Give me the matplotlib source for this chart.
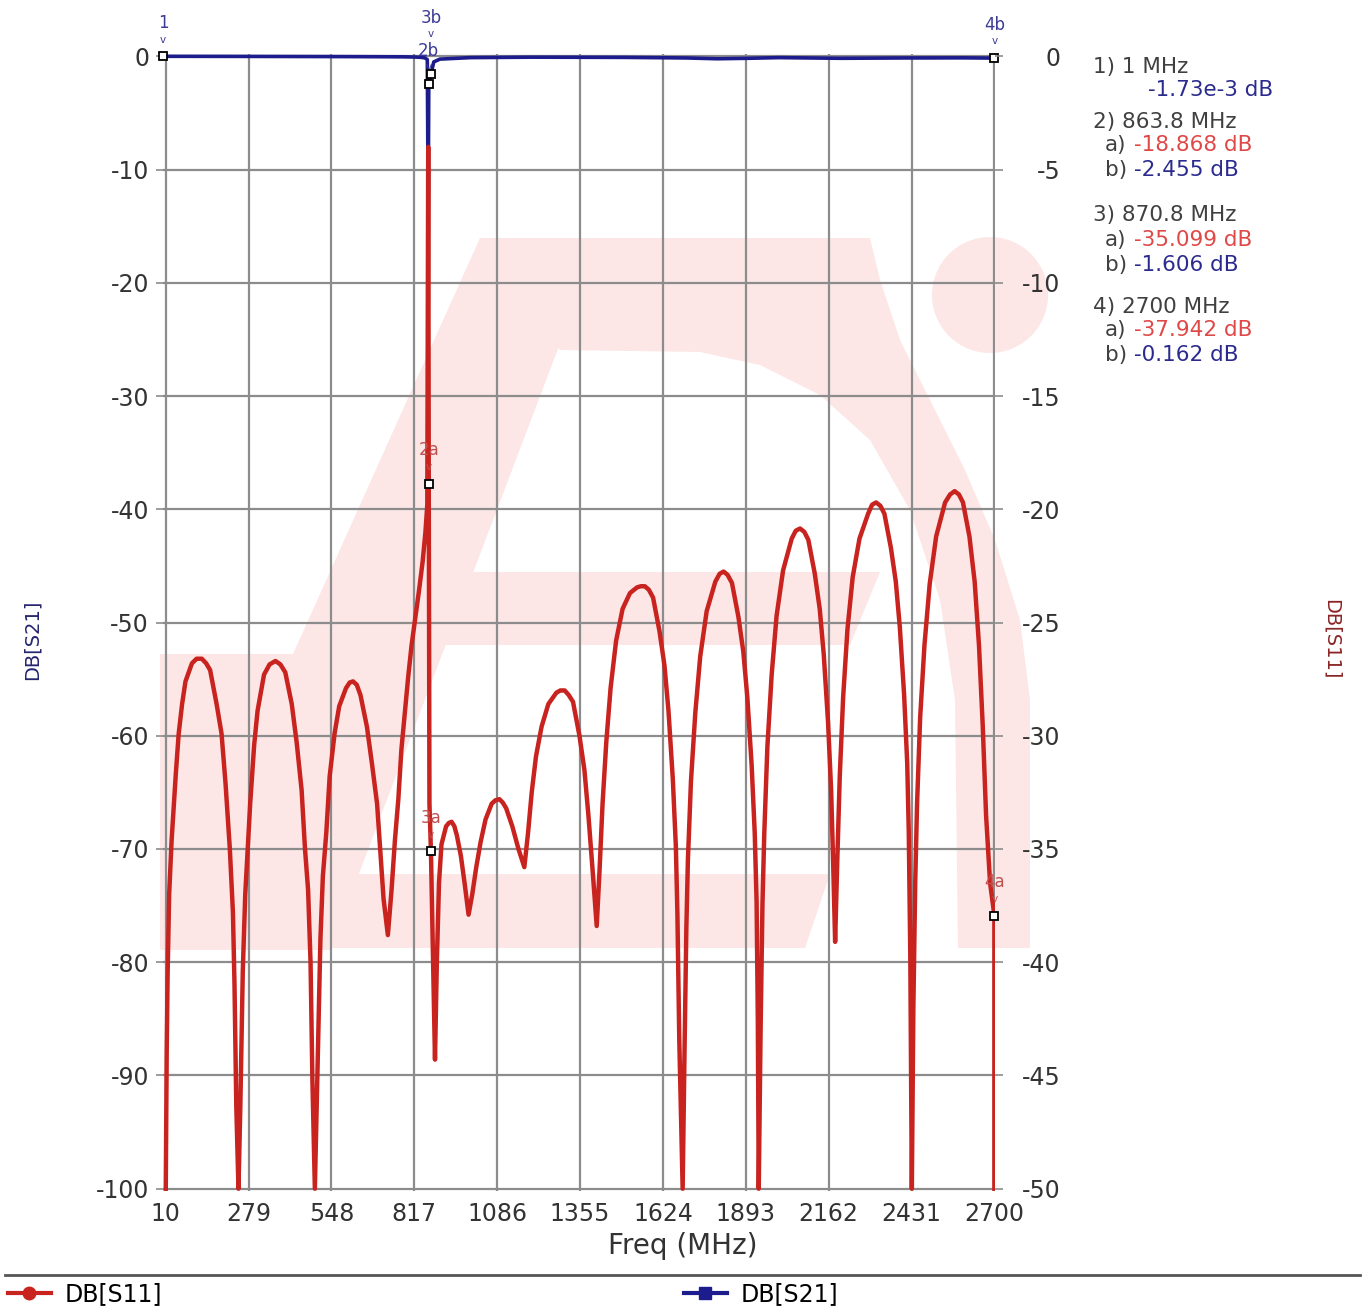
import matplotlib
matplotlib.use("Agg")
import matplotlib.pyplot as plt
from matplotlib.patches import Polygon, Ellipse
from matplotlib.lines import Line2D

W, H = 1364, 1309

# DB[S11] (red trace, right axis)
s11_freq = [10, 13, 16, 21, 29, 36, 43, 52, 63, 74, 95, 110, 127, 141, 154, 175, 191, 204, 218, 228, 233, 239, 246,
            252, 260, 268, 276, 284, 297, 308, 329, 347, 366, 382, 398, 419, 435, 451, 462, 472, 480, 486, 494,
            505, 512, 520, 531, 542, 558, 573, 595, 607, 618, 630, 642, 663, 680, 696, 706, 717, 731,
            743, 754, 765, 775, 786, 797, 808, 820, 832, 844, 853, 859, 862, 863.8, 866, 870.8,
            878, 884, 890, 897, 905, 920, 929, 938, 947, 955, 968, 980, 993,
            1005, 1018, 1032, 1048, 1068, 1080, 1093, 1104, 1115, 1135, 1155, 1174,
            1186, 1198, 1212, 1230, 1252, 1278, 1291, 1305, 1318, 1332, 1353, 1369, 1382, 1396, 1409,
            1418, 1428, 1440, 1454, 1472, 1493, 1517, 1540, 1552, 1565, 1578, 1592, 1613, 1629, 1642, 1656, 1666,
            1671, 1677, 1688,
            1694, 1700, 1705, 1715, 1729, 1745, 1766, 1794, 1808, 1821, 1834, 1848, 1869, 1885, 1898, 1912, 1922,
            1928, 1932, 1935,
            1941, 1947, 1953, 1963, 1977, 1993, 2014, 2042, 2055, 2069, 2083, 2096, 2117, 2133, 2146, 2160, 2170,
            2176, 2183,
            2190, 2198, 2209, 2223, 2240, 2262, 2290, 2303, 2316, 2330, 2343, 2364, 2380, 2393, 2407, 2417, 2422,
            2427, 2432,
            2437, 2443, 2449, 2459, 2473, 2490, 2511, 2540, 2556, 2571, 2585, 2598, 2619, 2636, 2650, 2662, 2673,
            2686, 2700, 2700]
s11_db = [-50, -44, -40.5, -37, -34.6, -33.1, -31.6, -29.9, -28.6, -27.6, -26.8, -26.6, -26.6, -26.8, -27.1, -28.6,
          -29.9, -32.1, -35, -37.8, -40.9, -46.4, -50,
          -46.4, -40.4, -37, -35, -33, -30.4, -28.9, -27.3, -26.85, -26.7, -26.85, -27.2, -28.6, -30.3, -32.4, -35,
          -36.8, -40, -45.2, -50,
          -43.4, -39, -36.2, -34.3, -31.8, -29.9, -28.7, -27.9, -27.65, -27.6, -27.75, -28.2, -29.6, -31.3, -33, -35,
          -37.2, -38.8,
          -36.8, -34.6, -32.8, -30.6, -29.0, -27.4, -26.0, -24.8, -23.6, -22.3, -21.0, -19.8, -4.0, -18.868, -33.0,
          -35.099,
          -40.0, -44.3, -40.0, -36.5, -34.8, -34.0, -33.85, -33.8, -34.0, -34.4, -35.3, -36.5, -37.9,
          -37.0, -35.8, -34.7, -33.7, -33.0, -32.85, -32.8, -32.95, -33.2, -34.0, -35.0, -35.8,
          -34.3, -32.5, -30.9, -29.6, -28.6, -28.1, -28.0, -28.0, -28.2, -28.5, -30.0, -31.5, -33.5, -36.0, -38.4,
          -36.0, -33.0, -30.3, -27.9, -25.8, -24.4, -23.7, -23.45, -23.4, -23.4, -23.55, -23.9, -25.4, -26.9, -28.9,
          -31.9, -34.9, -37.9, -43.4, -50,
          -44.0, -38.5, -35.5, -32.0, -29.0, -26.5, -24.5, -23.2, -22.85, -22.75, -22.9, -23.25, -24.75, -26.3, -28.3,
          -31.3, -34.3, -37.3, -42.5, -50,
          -43, -37.5, -34.3, -30.5, -27.3, -24.7, -22.7, -21.3, -20.95, -20.85, -21.0, -21.35, -22.85, -24.4, -26.4,
          -29.4, -32.4, -35.3, -39.1,
          -35.5, -31.8, -28.3, -25.3, -23.0, -21.3, -20.2, -19.8, -19.7, -19.85, -20.2, -21.7, -23.2, -25.2, -28.2,
          -31.2, -34.2, -39.7, -50,
          -42, -36.5, -33, -29.2, -26, -23.3, -21.2, -19.7, -19.35, -19.2, -19.35, -19.7, -21.2, -23.2, -26, -29.5,
          -33.5, -36.5, -37.942, -50]

# DB[S21] (blue trace, left axis)
s21_freq = [1, 10, 200, 400, 600, 700, 780, 820, 840, 852, 859, 862, 863.8, 870.8, 880, 900, 1000,
            1200, 1500, 1700, 1800, 1900, 2000, 2200, 2400, 2600, 2700]
s21_db = [-1.73e-3, -0.005, -0.01, -0.02, -0.03, -0.04, -0.05, -0.07, -0.1, -0.15, -0.3, -14, -2.455, -1.606, -0.5,
          -0.25, -0.12, -0.08, -0.1, -0.15, -0.22, -0.18, -0.12, -0.18, -0.15, -0.14, -0.162]

x_ticks = [10, 279, 548, 817, 1086, 1355, 1624, 1893, 2162, 2431, 2700]
left_ticks = list(range(-100, 1, 10))
right_ticks = list(range(-50, 1, 5))

# markers
mk21_freq = [1, 863.8, 870.8, 2700]
mk21_db = [-1.73e-3, -2.455, -1.606, -0.162]
mk21_lab = ["1", "2b", "3b", "4b"]
mk21_raise = [0, 0, 17, 0]
mk11_freq = [863.8, 870.8, 2700]
mk11_db = [-18.868, -35.099, -37.942]
mk11_lab = ["2a", "3a", "4a"]

# marker readout box: (prefix, value, kind)
readout = [("1) 1 MHz", None, "head"), ("", "-1.73e-3 dB", "b"),
           ("2) 863.8 MHz", None, "head"), ("a)", "-18.868 dB", "a"), ("b)", "-2.455 dB", "b"),
           ("3) 870.8 MHz", None, "head"), ("a)", "-35.099 dB", "a"), ("b)", "-1.606 dB", "b"),
           ("4) 2700 MHz", None, "head"), ("a)", "-37.942 dB", "a"), ("b)", "-0.162 dB", "b")]
readout_y = [67, 90, 122, 145, 170, 215, 240, 265, 307, 330, 355]

RED = "#c8231f"
BLUE = "#1c1c8c"
GRID = "#8c8c8c"
WM = "#fce6e6"
TXT = "#333333"

plt.rcParams['font.family'] = ['DejaVu Sans']
plt.rcParams['axes.unicode_minus'] = False

fig = plt.figure(figsize=(W / 100, H / 100), dpi=100)


def fp(x, y):
    return (x / W, 1 - y / H)


# watermark logo behind the plot
wm_shapes = [
    [(160, 950), (330, 950), (600, 238), (480, 238)],
    [(480, 238), (870, 238), (880, 280), (900, 340), (930, 400), (965, 470), (995, 540), (1020, 620),
     (1030, 700), (1030, 948), (958, 948), (955, 700), (940, 600), (910, 510), (870, 440), (820, 395),
     (760, 365), (700, 352), (560, 350)],
    [(430, 572), (880, 572), (850, 645), (405, 645)],
    [(160, 654), (310, 654), (310, 948), (160, 948)],
    [(300, 874), (830, 874), (805, 948), (300, 948)],
]
for shp in wm_shapes:
    fig.add_artist(Polygon([fp(*p) for p in shp], closed=True, transform=fig.transFigure,
                           facecolor=WM, edgecolor='none', zorder=-2))
fig.add_artist(Ellipse(fp(990, 295), 116 / W, 116 / H, transform=fig.transFigure,
                       facecolor=WM, edgecolor='none', zorder=-2))

ax = fig.add_axes([163 / W, (H - 1191) / H, (995 - 163) / W, (1191 - 54) / H])
ax.set_facecolor('none')
ax2 = ax.twinx()
ax2.set_facecolor('none')

ax.plot(s21_freq, s21_db, color=BLUE, lw=2.6, zorder=3, clip_on=False)
ax2.plot(s11_freq, s11_db, color=RED, lw=3.2, zorder=3)

ax.set_xlim(1, 2702)
ax.set_ylim(-100.2, 0.2)
ax2.set_ylim(-50.1, 0.1)
ax.set_xticks(x_ticks)
ax.set_yticks(left_ticks)
ax2.set_yticks(right_ticks)
ax.grid(True, color=GRID, lw=1.6)
ax.set_axisbelow(True)
for a in (ax, ax2):
    for s in a.spines.values():
        s.set_visible(False)

ax.tick_params(axis='both', length=5, width=1.2, color=GRID, labelsize=17, labelcolor=TXT, pad=5)
ax.tick_params(axis='x', length=0, pad=8)
ax2.tick_params(axis='y', length=6, width=1.2, color=GRID, labelsize=17, labelcolor=TXT, pad=41)
for lab in ax2.get_yticklabels():
    lab.set_ha('right')

ax.set_xlabel("Freq (MHz)", fontsize=20, color=TXT)
ax.xaxis.set_label_coords((683 - 163) / 832, -0.036)
ax.set_ylabel("DB[S21]", fontsize=14, color="#25256e")
ax.yaxis.set_label_coords(-0.146, 0.485)
ax2.set_ylabel("DB[S11]", fontsize=14, color="#8b2525", rotation=270)
ax2.yaxis.set_label_coords(1.415, 0.485)

# markers with their little labels
ax.plot(mk21_freq, mk21_db, ls='none', marker='s', ms=6, mfc='white', mec='black', mew=1.3,
        zorder=5, clip_on=False)
for f, v, lab, r in zip(mk21_freq, mk21_db, mk21_lab, mk21_raise):
    ax.annotate(lab, (f, v), xytext=(0, 24 + r), textcoords='offset points', ha='center', va='center',
                fontsize=12, color="#3c3c96", annotation_clip=False)
    ax.annotate("v", (f, v), xytext=(0, 12 + r), textcoords='offset points', ha='center', va='center',
                fontsize=7.5, color="#3c3c96", annotation_clip=False)
ax2.plot(mk11_freq, mk11_db, ls='none', marker='s', ms=6, mfc='white', mec='black', mew=1.3,
         zorder=5, clip_on=False)
for f, v, lab in zip(mk11_freq, mk11_db, mk11_lab):
    ax2.annotate(lab, (f, v), xytext=(0, 24), textcoords='offset points', ha='center', va='center',
                 fontsize=12, color="#c05050", annotation_clip=False)
    ax2.annotate("v", (f, v), xytext=(0, 12), textcoords='offset points', ha='center', va='center',
                 fontsize=7.5, color="#c05050", annotation_clip=False)

# readout box at right
for (pre, val, kind), y in zip(readout, readout_y):
    if kind == "head":
        fig.text(*fp(1093, y), pre, fontsize=15.5, color="#404040", va='center', ha='left')
    else:
        if pre:
            fig.text(*fp(1105, y), pre, fontsize=15.5, color="#404040", va='center', ha='left')
            vx = 1134
        else:
            vx = 1148
        fig.text(*fp(vx, y), val, fontsize=15.5, color=("#e04848" if kind == "a" else "#2b2b8f"),
                 va='center', ha='left')

# bottom legend strip
fig.add_artist(Line2D([5 / W, 1360 / W], [1 - 1275 / H] * 2, transform=fig.transFigure,
                      color="#555555", lw=2))
h11 = Line2D([], [], color=RED, lw=3, marker='o', ms=9)
h21 = Line2D([], [], color=BLUE, lw=3, marker='s', ms=9)
fig.legend([h11], ["DB[S11]"], loc='center left', bbox_to_anchor=fp(8, 1294), frameon=False,
           fontsize=17, handlelength=1.8, handletextpad=0.6, borderaxespad=0, borderpad=0)
fig.legend([h21], ["DB[S21]"], loc='center left', bbox_to_anchor=fp(684, 1294), frameon=False,
           fontsize=17, handlelength=1.8, handletextpad=0.6, borderaxespad=0, borderpad=0)

fig.savefig("out.png", dpi=100)
